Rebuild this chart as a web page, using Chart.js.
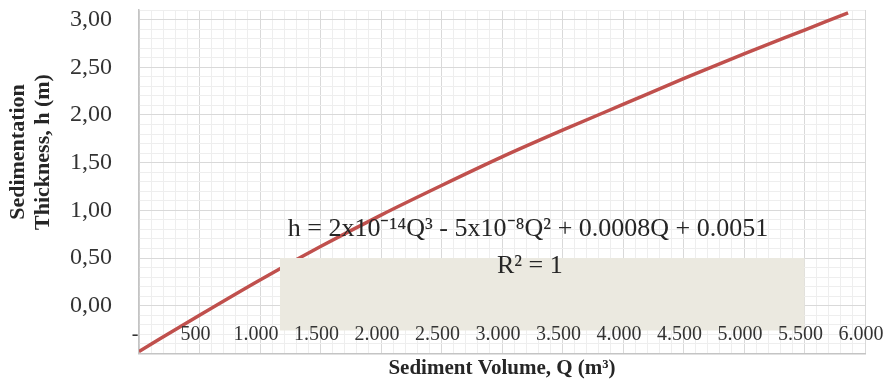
<!DOCTYPE html>
<html>
<head>
<meta charset="utf-8">
<script src="https://cdn.jsdelivr.net/npm/chart.js@4/dist/chart.umd.min.js"></script>
<style>
  html, body { margin: 0; padding: 0; background: #fff; }
</style>
</head>
<body>
<canvas id="thickness-chart" width="884" height="383"></canvas>
<script>
// values
const volumes = [0, 500, 1000, 1500, 2000, 2500, 3000, 3500, 4000, 4500, 5000, 5500, 5860];
const thickness = [-0.48, -0.1, 0.27, 0.62, 0.95, 1.26, 1.56, 1.84, 2.11, 2.38, 2.64, 2.89, 3.07];

const yTitleLines = ["Sedimentation", "Thickness, h (m)"];
const xTitle = "Sediment Volume, Q (m³)";
const equationText = "h = 2x10⁻¹⁴Q³ - 5x10⁻⁸Q² + 0.0008Q + 0.0051";
const rSquaredText = "R² = 1";

const serif = "'Liberation Serif', 'Times New Roman', serif";
const majorGrid = "#d9d9d9";
const minorGrid = "#eeeeee";

Chart.defaults.font.family = serif;

function formatVolume(v) {
  if (v === 0) return "-";
  return String(v).replace(/\B(?=(\d{3})+$)/g, ".");
}

// trendline label box, equation and y title
const overlayPlugin = {
  id: "overlay",
  afterDatasetsDraw(chart) {
    const { ctx, scales } = chart;
    const x = scales.x;
    const y = scales.y;
    ctx.save();

    const left = x.getPixelForValue(1165);
    const right = x.getPixelForValue(5500);
    const top = y.getPixelForValue(0.5);
    const bottom = y.getPixelForValue(-0.26);
    ctx.fillStyle = "#ebe9e0";
    ctx.fillRect(left, top, right - left, bottom - top);

    ctx.fillStyle = "#262626";
    ctx.font = "26px " + serif;
    ctx.textAlign = "center";
    ctx.textBaseline = "middle";
    ctx.fillText(equationText, x.getPixelForValue(3215), y.getPixelForValue(0.8));
    ctx.fillText(rSquaredText, x.getPixelForValue(3230), y.getPixelForValue(0.41));

    ctx.font = "bold 22px " + serif;
    ctx.translate(0, 152);
    ctx.rotate(-Math.PI / 2);
    yTitleLines.forEach((line, i) => {
      ctx.fillText(line, 0, 18 + i * 25);
    });
    ctx.restore();
  },
};

const config = {
  type: "line",
  data: {
    datasets: [
      {
        data: volumes.map((q, i) => ({ x: q, y: thickness[i] })),
        borderColor: "#c0504d",
        borderWidth: 3.5,
        pointRadius: 0,
        cubicInterpolationMode: "monotone",
        fill: false,
      },
    ],
  },
  options: {
    responsive: false,
    animation: false,
    layout: {
      padding: { top: 10, right: 19, bottom: 2, left: 0 },
    },
    plugins: {
      legend: { display: false },
      tooltip: { enabled: false },
    },
    scales: {
      x: {
        type: "linear",
        min: 0,
        max: 6000,
        afterFit(scale) {
          scale.height = 27.6;
          scale.paddingLeft = 0;
          scale.paddingRight = 0;
        },
        ticks: {
          stepSize: 100,
          autoSkip: false,
          maxRotation: 0,
          mirror: true,
          padding: 6.6,
          labelOffset: -4,
          z: 1,
          color: "#333333",
          font: { size: 20 },
          callback: (v) => (v % 500 === 0 ? formatVolume(v) : ""),
        },
        grid: {
          drawTicks: false,
          color: (c) => (c.tick && c.tick.value % 500 === 0 ? majorGrid : minorGrid),
        },
        border: { color: "#c4c4c4", width: 1.5 },
        title: {
          display: true,
          text: xTitle,
          color: "#262626",
          font: { size: 21, weight: "bold" },
          padding: { top: 0, bottom: 0 },
        },
      },
      y: {
        min: -0.5,
        max: 3.1,
        afterFit(scale) {
          scale.width = 139;
          scale.paddingTop = 0;
          scale.paddingBottom = 0;
        },
        ticks: {
          stepSize: 0.1,
          autoSkip: false,
          padding: 27,
          color: "#333333",
          font: { size: 24 },
          callback: (v) => {
            const t = Math.round(v * 10);
            return t >= 0 && t % 5 === 0 ? (t / 10).toFixed(2).replace(".", ",") : "";
          },
        },
        grid: {
          drawTicks: false,
          color: (c) => (c.tick && Math.round(c.tick.value * 10) % 5 === 0 ? majorGrid : minorGrid),
        },
        border: { color: "#c4c4c4", width: 1.5 },
      },
    },
  },
  plugins: [overlayPlugin],
};

const ctx = document.getElementById("thickness-chart").getContext("2d");
const thicknessChart = new Chart(ctx, config);
</script>
</body>
</html>
